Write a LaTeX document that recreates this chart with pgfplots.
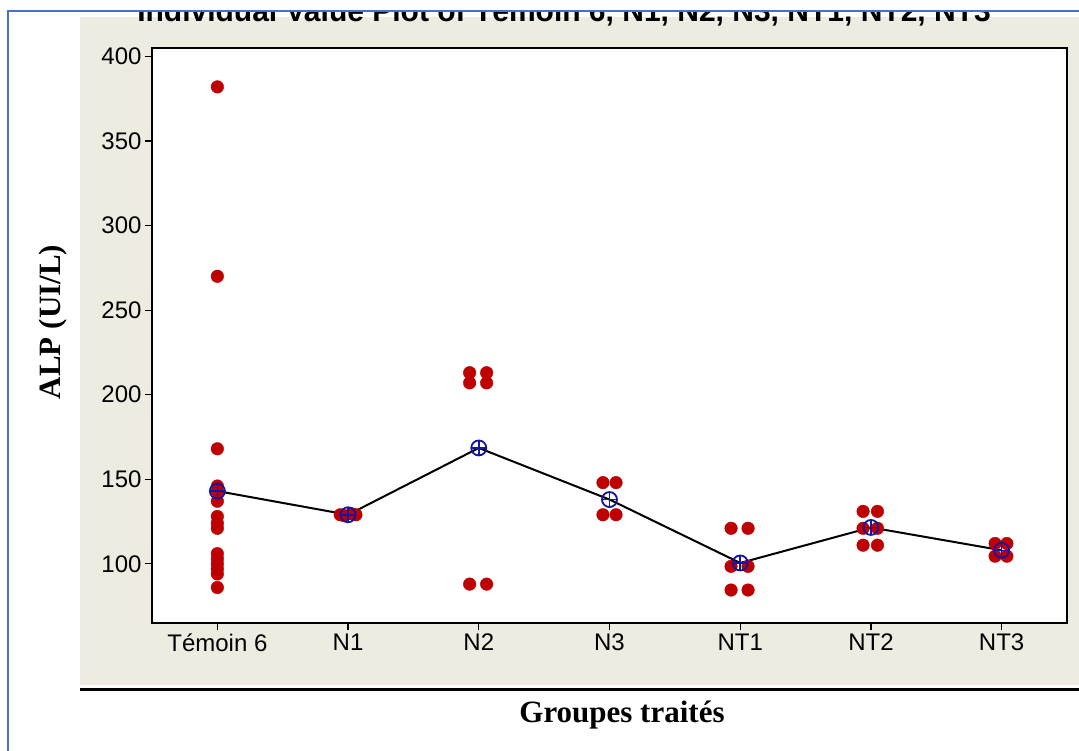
\documentclass[border=0pt]{standalone}
\usepackage{pgfplots}
\pgfplotsset{compat=1.18}
\usepackage{fontspec}
\setmainfont{Liberation Serif}
\newfontfamily\sansf{Liberation Sans}
\definecolor{beige}{RGB}{238,235,225}
\definecolor{frameblue}{RGB}{68,114,196}
\definecolor{meanblue}{RGB}{20,20,165}
\definecolor{dotred}{RGB}{190,0,0}
\pgfplotstableread{
x y
0 382
0 270
0 168
0 146
0 143
0 137
0 128
0 124
0 121
0 106
0 103
0 100
0 97
0 94
0 86
0.94 129
1.06 129
0.97 128.5
1.03 129.5
1.93 213
2.06 213
1.93 207
2.06 207
1.93 88
2.06 88
2.95 148
3.05 148
2.95 129
3.05 129
3.93 121
4.06 121
3.93 98.5
4.06 98.5
3.93 84.5
4.06 84.5
4.94 131
5.05 131
4.94 121
5.05 121
4.94 111
5.05 111
5.95 112
6.04 112
5.95 104.5
6.04 104.5
}\points
\pgfplotstableread{
x y
0 143
1 129
2 168.5
3 138
4 100.5
5 121.5
6 108
}\means
\begin{document}
\begin{tikzpicture}[x=1pt,y=1pt]
\path[use as bounding box] (0,0) rectangle (1079,751);
\fill[white] (0,0) rectangle (1079,751);
\fill[beige] (80,66) rectangle (1079,734);
\begin{scope}
\clip (80,66) rectangle (1079,738);
\node[anchor=base, font=\sansf\bfseries\fontsize{30}{34}\selectfont] at (564,729) {Individual Value Plot of Témoin 6, N1, N2, N3, NT1, NT2, NT3};
\end{scope}
\draw[line width=3pt] (80,61) -- (1079,61);
\draw[frameblue, line width=2.5pt] (8,0) -- (8,740) -- (1079,740);
\begin{axis}[
  at={(152pt,128pt)}, anchor=south west,
  scale only axis, width=915pt, height=575pt,
  xmin=-0.5, xmax=6.5, ymin=65, ymax=405,
  axis background/.style={fill=white},
  axis line style={line width=2pt},
  xtick={0,1,2,3,4,5,6},
  xticklabels={Témoin 6, N1, N2, N3, NT1, NT2, NT3},
  ytick={100,150,200,250,300,350,400},
  tick align=outside, xtick pos=bottom, ytick pos=left,
  major tick length=7pt,
  tick style={line width=1.2pt, black},
  ticklabel style={font=\sansf\fontsize{24}{27}\selectfont},
  /pgf/number format/assume math mode=true,
]
\addplot[only marks, mark=*, mark size=6.3pt, color=dotred] table[x=x,y=y] {\points};
\addplot[black, line width=2pt, mark=o, mark size=7.5pt, mark options={draw=meanblue, line width=1.8pt}] table[x=x,y=y] {\means};
\addplot[only marks, mark=+, mark size=7.5pt, mark options={draw=meanblue, line width=1.5pt}] table[x=x,y=y] {\means};
\end{axis}
\node[font=\bfseries\fontsize{31}{36}\selectfont, rotate=90] at (53,429) {ALP (UI/L)};
\node[font=\bfseries\fontsize{31}{36}\selectfont] at (622,36) {Groupes traités};
\end{tikzpicture}
\end{document}
